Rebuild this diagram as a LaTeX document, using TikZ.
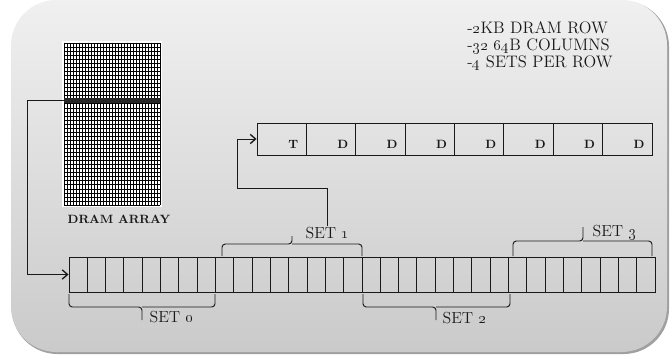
\documentclass[tikz,border=0pt]{standalone}
\usepackage{tikz}
\usetikzlibrary{arrows.meta,positioning}
\definecolor{bgtop}{RGB}{240, 240, 240}
\definecolor{bgbottom}{RGB}{202, 202, 202}
\definecolor{edgegray}{RGB}{160, 160, 160}
\definecolor{linedark}{RGB}{25, 25, 25}
\tikzset{
  cellrow/.style={draw=linedark, line width=0.7pt, inner sep=0pt},
  celllabel/.style={font=\fontsize{9}{10}\selectfont\bfseries, text=linedark, inner sep=1pt},
  setlabel/.style={font=\fontsize{12}{13}\selectfont, text=linedark, inner sep=1pt, anchor=west},
  setbrace/.style={draw=linedark, line width=0.7pt, rounded corners=2.5pt},
  arr/.style={draw=linedark, line width=0.7pt, -{Straight Barb[length=4pt, width=7pt, line width=1pt]}}
}

\begin{document}
\begin{tikzpicture}[x=0.75pt, y=-0.75pt]
  \useasboundingbox (0,0) rectangle (670,360);
  % rounded background panel
  \fill[edgegray, rounded corners=34pt] (12,1) rectangle (669,354);
  \shade[top color=bgtop, bottom color=bgbottom, rounded corners=34pt] (11,0) rectangle (667,352);

  % dram array
  \fill[white] (62,41) rectangle (162,207);
  \foreach \i in {0,...,32} {
    \draw[black, line width=0.6pt] ({64+3*\i},43) -- ({64+3*\i},205);
  }
  \foreach \j in {0,...,40} {
    \draw[black, line width=0.45pt] (64,{43+4.05*\j}) -- (160,{43+4.05*\j});
  }
  \fill[black!85] (64,98) rectangle (160,103);
  \coordinate (rowsel) at (64,100.5);
  \node[font=\fontsize{9}{10}\selectfont\bfseries, text=linedark] (arraylbl) at (119,219) {DRAM ARRAY};

  % info text
  \node[anchor=north west, align=left, inner sep=0pt, text=linedark,
        font=\fontsize{12.5}{12.8}\selectfont] (info) at (467,21)
    {-\oldstylenums{2}KB DRAM ROW\\-\oldstylenums{32} \oldstylenums{64}B COLUMNS\\-\oldstylenums{4} SETS PER ROW};

  % tag + data row
  \node[cellrow, minimum width=296.25pt, minimum height=24pt] (tdrow) at (454.5,139) {};
  \foreach \i in {1,...,7} {
    \draw[linedark, line width=0.7pt] ({257+49.375*\i},123) -- ({257+49.375*\i},155);
  }
  \foreach \i/\t in {1/T,2/D,3/D,4/D,5/D,6/D,7/D,8/D} {
    \node[celllabel] (cell\i) at ({257+49.375*\i-13},144) {\t};
  }

  % full dram row, 32 columns
  \node[cellrow, minimum width=439.5pt, minimum height=26.25pt] (bigrow) at (362,274.5) {};
  \foreach \i in {1,...,31} {
    \draw[linedark, line width=0.7pt] ({69+18.3125*\i},257) -- ({69+18.3125*\i},292);
  }

  % sets
  \draw[setbrace] (69,294) -- (69,307) -- (142,307) -- (142,320) (142,307) -- (215,307) -- (215,294);
  \draw[setbrace] (222,256) -- (222,244) -- (292,244) -- (292,236) (292,244) -- (362,244) -- (362,256);
  \draw[setbrace] (363,294) -- (363,307) -- (436,307) -- (436,320) (436,307) -- (510,307) -- (510,294);
  \draw[setbrace] (513,256) -- (513,241) -- (583,241) -- (583,227) (583,241) -- (652,241) -- (652,256);
  \node[setlabel] (set0) at (148,317) {SET \oldstylenums{0}};
  \node[setlabel] (set1) at (304,233) {SET \oldstylenums{1}};
  \node[setlabel] (set2) at (441,318) {SET \oldstylenums{2}};
  \node[setlabel] (set3) at (591,232) {SET \oldstylenums{3}};

  % connectors
  \coordinate (bend) at (237,188);
  \draw[arr] (rowsel) -- ++(-37,0) |- (bigrow.west);
  \draw[arr] (set1.north) |- (bend) |- (tdrow.west);
\end{tikzpicture}
\end{document}
